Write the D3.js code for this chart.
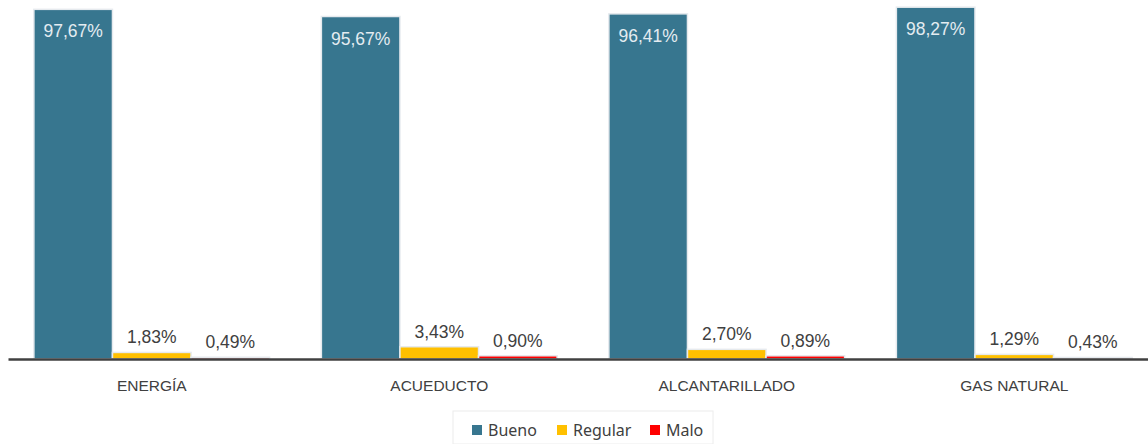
<!DOCTYPE html>
<html>
<head>
<meta charset="utf-8">
<script src="https://cdn.jsdelivr.net/npm/d3@7"></script>
<style>
  body { margin: 0; background: #fff; }
  svg { display: block; }
</style>
</head>
<body>
<div id="chart"></div>
<script>
const categories = ["ENERGÍA", "ACUEDUCTO", "ALCANTARILLADO", "GAS NATURAL"];
const seriesNames = ["Bueno", "Regular", "Malo"];
const bueno = [97.67, 95.67, 96.41, 98.27];
const regular = [1.83, 3.43, 2.70, 1.29];
const malo = [0.49, 0.90, 0.89, 0.43];
const colors = ["#37768F", "#FFC000", "#FF0000"];

const width = 1148, height = 444;
const margin = { top: 1, right: -10, bottom: 85, left: 8 };
const innerWidth = width - margin.left - margin.right;
const innerHeight = height - margin.top - margin.bottom;

const seriesValues = [bueno, regular, malo];
const rows = categories.map((c, i) => ({
  cat: c,
  vals: seriesNames.map((s, j) => ({ name: s, idx: j, value: seriesValues[j][i] }))
}));

const svg = d3.select("#chart").append("svg")
  .attr("width", width)
  .attr("height", height);

const g = svg.append("g")
  .attr("transform", `translate(${margin.left},${margin.top})`);

const x0 = d3.scaleBand()
  .domain(categories)
  .range([0, innerWidth])
  .paddingInner(0.18)
  .paddingOuter(0.09);

const x1 = d3.scaleBand()
  .domain(seriesNames)
  .range([0, x0.bandwidth()])
  .padding(0);

const y = d3.scaleLinear()
  .domain([0, 100])
  .range([innerHeight, 0]);

// Bars
const groups = g.selectAll(".cat")
  .data(rows)
  .enter()
  .append("g")
  .attr("class", "cat")
  .attr("transform", d => `translate(${x0(d.cat)},0)`);

groups.selectAll("rect")
  .data(d => d.vals)
  .enter()
  .append("rect")
  .attr("x", d => x1(d.name))
  .attr("y", d => y(d.value))
  .attr("width", x1.bandwidth())
  .attr("height", d => innerHeight - y(d.value))
  .attr("fill", d => colors[d.idx])
  .attr("stroke", "#e6eaee")
  .attr("stroke-width", 1.5);

const fmt = v => v.toFixed(2).replace(".", ",") + "%";

// Data labels
groups.selectAll("text.val")
  .data(d => d.vals)
  .enter()
  .append("text")
  .attr("class", "val")
  .attr("x", d => x1(d.name) + x1.bandwidth() / 2)
  .attr("y", d => d.idx === 0 ? y(d.value) + 28 : y(d.value) - 9)
  .attr("text-anchor", "middle")
  .style("font-family", "'Liberation Sans', Arial, sans-serif")
  .style("font-size", "17.5px")
  .style("fill", d => d.idx === 0 ? "#e4ecf1" : "#404040")
  .text(d => fmt(d.value));

// X axis
const xAxis = g.append("g")
  .attr("transform", `translate(0,${innerHeight})`)
  .call(d3.axisBottom(x0).tickSize(0).tickPadding(21));

xAxis.select(".domain")
  .attr("stroke", "#404040")
  .attr("stroke-width", 2.5);

xAxis.selectAll("text")
  .style("font-family", "'Liberation Sans', Arial, sans-serif")
  .style("font-size", "15.5px")
  .style("fill", "#404040");

// Legend
const legend = svg.append("g")
  .attr("transform", "translate(453,411)");

legend.append("rect")
  .attr("x", 0)
  .attr("y", 0)
  .attr("width", 260)
  .attr("height", 33)
  .attr("fill", "#fff")
  .attr("stroke", "#ececec");

const legendX = [19, 104, 197];
const items = legend.selectAll(".item")
  .data(seriesNames)
  .enter()
  .append("g")
  .attr("class", "item")
  .attr("transform", (d, i) => `translate(${legendX[i]},0)`);

items.append("rect")
  .attr("x", 0)
  .attr("y", 14)
  .attr("width", 10)
  .attr("height", 10)
  .attr("fill", (d, i) => colors[i]);

items.append("text")
  .attr("x", 16)
  .attr("y", 25)
  .style("font-family", "'Noto Sans', sans-serif")
  .style("font-size", "16px")
  .style("fill", "#404040")
  .text(d => d);
</script>
</body>
</html>
